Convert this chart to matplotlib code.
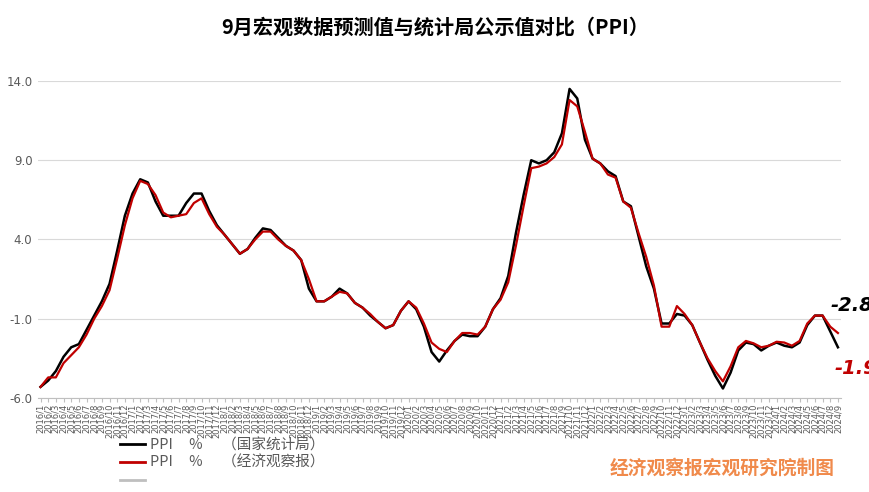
import matplotlib
matplotlib.use("Agg")
import matplotlib.pyplot as plt
from matplotlib.lines import Line2D

plt.rcParams['font.family'] = ['DejaVu Sans', 'Noto Sans CJK SC']

# months 2016/1 .. 2024/9
months = [f"{y}/{m}" for y in range(2016, 2025) for m in range(1, 13)][:105]

# PPI 同比, 国家统计局公布值
ppi_nbs = [
    -5.3, -4.9, -4.3, -3.4, -2.8, -2.6, -1.7, -0.8, 0.1, 1.2, 3.3, 5.5,
    6.9, 7.8, 7.6, 6.4, 5.5, 5.5, 5.5, 6.3, 6.9, 6.9, 5.8, 4.9,
    4.3, 3.7, 3.1, 3.4, 4.1, 4.7, 4.6, 4.1, 3.6, 3.3, 2.7, 0.9,
    0.1, 0.1, 0.4, 0.9, 0.6, 0.0, -0.3, -0.8, -1.2, -1.6, -1.4, -0.5,
    0.1, -0.4, -1.5, -3.1, -3.7, -3.0, -2.4, -2.0, -2.1, -2.1, -1.5, -0.4,
    0.3, 1.7, 4.4, 6.8, 9.0, 8.8, 9.0, 9.5, 10.7, 13.5, 12.9, 10.3,
    9.1, 8.8, 8.3, 8.0, 6.4, 6.1, 4.2, 2.3, 0.9, -1.3, -1.3, -0.7,
    -0.8, -1.4, -2.5, -3.6, -4.6, -5.4, -4.4, -3.0, -2.5, -2.6, -3.0, -2.7,
    -2.5, -2.7, -2.8, -2.5, -1.4, -0.8, -0.8, -1.8, -2.8,
]

# 经济观察报预测值
ppi_eeo = [
    -5.3, -4.7, -4.7, -3.8, -3.3, -2.8, -2.0, -1.0, -0.2, 0.8, 2.8, 4.9,
    6.6, 7.7, 7.5, 6.8, 5.7, 5.4, 5.5, 5.6, 6.3, 6.6, 5.6, 4.8,
    4.3, 3.7, 3.1, 3.4, 4.0, 4.5, 4.5, 4.0, 3.6, 3.3, 2.7, 1.5,
    0.1, 0.1, 0.4, 0.7, 0.6, 0.0, -0.3, -0.7, -1.2, -1.6, -1.4, -0.5,
    0.1, -0.3, -1.3, -2.5, -2.9, -3.1, -2.4, -1.9, -1.9, -2.0, -1.5, -0.4,
    0.2, 1.3, 3.6, 6.1, 8.5, 8.6, 8.8, 9.2, 10.0, 12.8, 12.4, 10.8,
    9.1, 8.8, 8.1, 7.9, 6.4, 6.0, 4.4, 2.9, 1.1, -1.5, -1.5, -0.2,
    -0.7, -1.4, -2.5, -3.5, -4.3, -4.95, -4.0, -2.8, -2.4, -2.55, -2.8, -2.7,
    -2.45, -2.5, -2.7, -2.4, -1.3, -0.8, -0.8, -1.5, -1.9,
]

yticks = [-6.0, -1.0, 4.0, 9.0, 14.0]

fig = plt.figure(figsize=(8.7, 4.92), dpi=100)
ax = fig.add_axes([38 / 870, 1 - 398 / 492, (841 - 38) / 870, (398 - 81) / 492])

x = list(range(len(months)))
ax.plot(x, ppi_nbs, color='black', linewidth=1.8, zorder=3)
ax.plot(x, ppi_eeo, color='#C00000', linewidth=1.6, zorder=4)

ax.set_ylim(-6, 14)
ax.set_xlim(-0.33, 104.4)
ax.set_yticks(yticks)
ax.set_yticklabels([f"{v:.1f}" for v in yticks], fontsize=8.5, color='#595959')
ax.yaxis.grid(True, color='#D9D9D9', linewidth=0.8)
ax.set_axisbelow(True)
ax.tick_params(axis='y', length=0, pad=4)

ax.set_xticks(x)
ax.set_xticklabels(months, rotation=90, fontsize=6, color='#595959')
ax.tick_params(axis='x', length=3, color='#BFBFBF', pad=1)

for s in ['top', 'right', 'left']:
    ax.spines[s].set_visible(False)
ax.spines['bottom'].set_color('#BFBFBF')

# end labels
ax.annotate('-2.8', xy=(x[-1], ppi_nbs[-1]), xytext=(-7, 42), textcoords='offset pixels',
            fontsize=14, fontweight='bold', fontstyle='italic', color='black',
            ha='left', va='center', annotation_clip=False)
ax.annotate('-1.9', xy=(x[-1], ppi_eeo[-1]), xytext=(-3, -35), textcoords='offset pixels',
            fontsize=14, fontweight='bold', fontstyle='italic', color='#C00000',
            ha='left', va='center', annotation_clip=False)

fig.text(0.5, 1 - 27 / 492, '9月宏观数据预测值与统计局公示值对比（PPI）',
         ha='center', va='center', fontsize=14.5, fontweight='bold',
         family=['Noto Sans CJK SC', 'DejaVu Sans'])

handles = [
    Line2D([], [], color='black', linewidth=2),
    Line2D([], [], color='#C00000', linewidth=2),
    Line2D([], [], color='#BFBFBF', linewidth=2),
]
labels = ['PPI     %      （国家统计局）', 'PPI     %      （经济观察报）', '']
leg = fig.legend(handles, labels, loc='upper left', bbox_to_anchor=(120 / 870, 1 - 438 / 492),
                 frameon=False, handlelength=1.7, handletextpad=0.35,
                 labelspacing=0.25, borderpad=0, borderaxespad=0,
                 prop={'family': ['Noto Sans CJK SC', 'DejaVu Sans'], 'size': 10.5})
for t in leg.get_texts():
    t.set_color('#595959')

fig.text(722 / 870, 1 - 468 / 492, '经济观察报宏观研究院制图', ha='center', va='center',
         fontsize=13.5, fontweight='bold', color='#F08A4B', family='Noto Sans CJK SC')

fig.savefig('out.png', dpi=100)
